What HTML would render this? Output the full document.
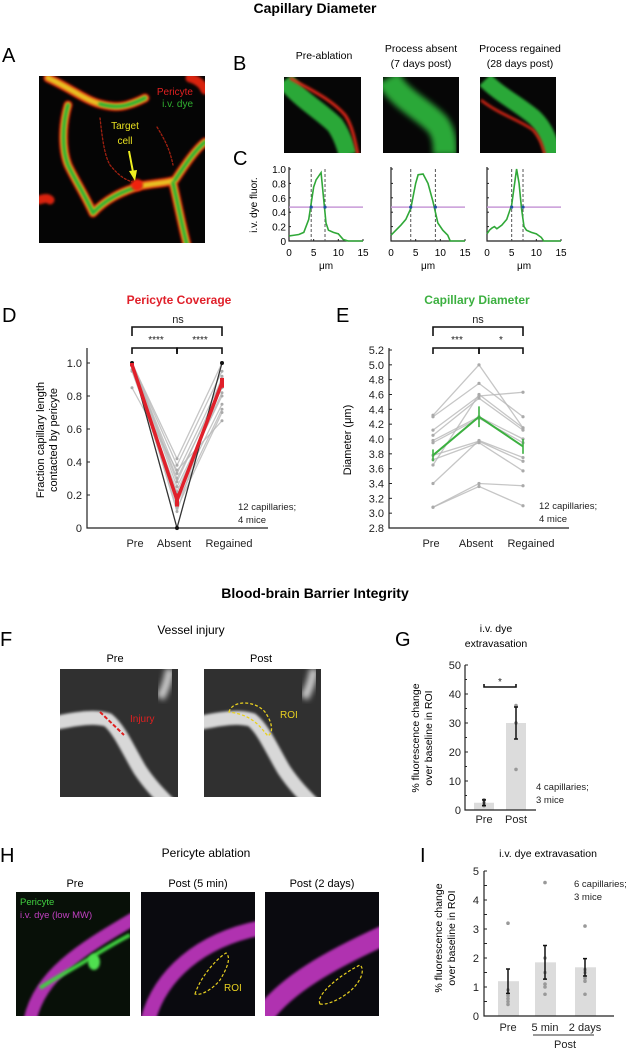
<!DOCTYPE html>
<html><head><meta charset="utf-8"><style>
body{margin:0;background:#fff}
svg text{font-family:"Liberation Sans",sans-serif}
</style></head><body>
<svg id="fig" width="630" height="1050" viewBox="0 0 630 1050" xmlns="http://www.w3.org/2000/svg">
<defs>
<filter id="bl" x="-20%" y="-20%" width="140%" height="140%"><feGaussianBlur stdDeviation="1.4"/></filter>
<filter id="bl2" x="-20%" y="-20%" width="140%" height="140%"><feGaussianBlur stdDeviation="3"/></filter>
<clipPath id="cA"><rect x="39" y="76" width="166" height="167"/></clipPath>
<clipPath id="cB1"><rect x="284" y="77" width="77" height="76"/></clipPath>
<clipPath id="cB2"><rect x="383" y="77" width="76" height="76"/></clipPath>
<clipPath id="cB3"><rect x="480" y="77" width="76" height="76"/></clipPath>
<clipPath id="cF1"><rect x="60" y="669" width="118" height="128"/></clipPath>
<clipPath id="cF2"><rect x="204" y="669" width="117" height="128"/></clipPath>
<clipPath id="cH1"><rect x="16" y="892" width="114" height="124"/></clipPath>
<clipPath id="cH2"><rect x="141" y="892" width="114" height="124"/></clipPath>
<clipPath id="cH3"><rect x="265" y="892" width="114" height="124"/></clipPath>
</defs>
<text x="315" y="13" font-size="14" font-weight="bold" text-anchor="middle">Capillary Diameter</text>
<text x="2" y="62" font-size="20">A</text>
<text x="233" y="70" font-size="20">B</text>
<text x="233" y="165" font-size="20">C</text>

<!-- Panel A image -->
<g clip-path="url(#cA)">
<rect x="39" y="76" width="166" height="167" fill="#050505"/>
<g fill="none" stroke-linecap="round">
<path id="va" d="M48 78 C70 88 85 100 100 104 C115 108 125 108 145 98 M68 105 C62 125 62 150 68 165 C75 180 85 195 93 213 M93 213 C105 200 120 192 140 186 C155 183 168 183 175 180 C185 165 195 150 205 142 M173 183 C178 205 182 225 187 245 M39 200 C45 198 48 198 50 200 M190 78 C198 80 203 85 205 90" stroke="#d82010" stroke-width="9" filter="url(#bl)"/>
<path d="M48 78 C70 88 85 100 100 104 C115 108 125 108 145 98 M68 105 C62 125 62 150 68 165 C75 180 85 195 93 213 M93 213 C105 200 120 192 140 186 C155 183 168 183 175 180 C185 165 195 150 205 142 M173 183 C178 205 182 225 187 245" stroke="#e8c020" stroke-width="5.5" filter="url(#bl)"/>
<path d="M68 105 C62 125 62 150 68 165 C75 180 85 195 93 213 M93 213 C105 200 120 192 140 186 M175 180 C185 165 195 150 205 142 M173 183 C178 205 182 225 187 245 M100 104 C115 108 125 108 145 98" stroke="#28b030" stroke-width="3.5" filter="url(#bl)"/>
<circle cx="137" cy="185" r="6" fill="#f02010" filter="url(#bl)"/>
<path d="M100 118 C102 135 104 155 110 165 C118 175 125 180 133 182 M157 127 C165 140 170 150 173 165" stroke="#a02010" stroke-width="1.3" stroke-dasharray="2 2"/>
</g>
<text x="193" y="95" font-size="10" fill="#e02020" text-anchor="end">Pericyte</text>
<text x="193" y="107" font-size="10" fill="#30b030" text-anchor="end">i.v. dye</text>
<text x="125" y="129" font-size="10" fill="#e8e020" text-anchor="middle">Target</text>
<text x="125" y="144" font-size="10" fill="#e8e020" text-anchor="middle">cell</text>
<path d="M129 151 L133 172" stroke="#f0f020" stroke-width="2"/>
<path d="M129 171 L135 181 L137 170 Z" fill="#f0f020"/>
</g>

<!-- Panel B labels and images -->
<text x="324" y="59" font-size="10.5" text-anchor="middle">Pre-ablation</text>
<text x="421" y="52" font-size="10.5" text-anchor="middle">Process absent</text>
<text x="421" y="67" font-size="10.5" text-anchor="middle">(7 days post)</text>
<text x="520" y="52" font-size="10.5" text-anchor="middle">Process regained</text>
<text x="520" y="67" font-size="10.5" text-anchor="middle">(28 days post)</text>
<g clip-path="url(#cB1)">
<rect x="284" y="77" width="77" height="76" fill="#060606"/>
<path d="M285 80 C300 100 320 110 335 125 C342 135 345 145 348 155" stroke="#2aa838" stroke-width="18" fill="none" filter="url(#bl)"/>
<path d="M290 78 C310 90 330 98 345 115 C352 125 355 140 358 155" stroke="#e02818" stroke-width="3" fill="none" filter="url(#bl)"/>
</g>
<g clip-path="url(#cB2)">
<rect x="383" y="77" width="76" height="76" fill="#060606"/>
<path d="M388 78 C400 100 425 110 438 125 C445 135 445 145 445 155" stroke="#2aa838" stroke-width="24" fill="none" filter="url(#bl2)"/>
</g>
<g clip-path="url(#cB3)">
<rect x="480" y="77" width="76" height="76" fill="#060606"/>
<path d="M485 80 C500 95 520 105 535 118 C545 128 550 140 553 155" stroke="#2aa838" stroke-width="16" fill="none" filter="url(#bl)"/>
<path d="M481 100 C500 115 520 120 533 130 C540 138 542 145 545 155" stroke="#e02818" stroke-width="2.5" fill="none" filter="url(#bl)"/>
</g>
<g id="panelC"></g>

<!-- Panel D/E -->
<text x="2" y="322" font-size="20">D</text>
<text x="336" y="322" font-size="20">E</text>
<text x="179" y="304" font-size="12" font-weight="bold" fill="#e0202a" text-anchor="middle">Pericyte Coverage</text>
<text x="477" y="304" font-size="12" font-weight="bold" fill="#3cb040" text-anchor="middle">Capillary Diameter</text>
<g id="panelD"></g>
<g id="panelE"></g>

<text x="315" y="598" font-size="14" font-weight="bold" text-anchor="middle">Blood-brain Barrier Integrity</text>

<!-- Panel F -->
<text x="0" y="646" font-size="20">F</text>
<text x="191" y="634" font-size="12" text-anchor="middle">Vessel injury</text>
<text x="115" y="662" font-size="11" text-anchor="middle">Pre</text>
<text x="261" y="662" font-size="11" text-anchor="middle">Post</text>
<g clip-path="url(#cF1)">
<rect x="60" y="669" width="118" height="128" fill="#303030"/>
<path d="M55 723 C80 718 95 716 108 720 C120 730 128 750 140 770 C150 785 160 795 170 805" stroke="#d8d8d8" stroke-width="14" fill="none" filter="url(#bl)"/>
<path d="M170 669 C168 680 165 690 160 698" stroke="#c8c8c8" stroke-width="9" fill="none" filter="url(#bl2)"/>
<path d="M100 712 L124 735" stroke="#e02020" stroke-width="2" stroke-dasharray="4 2"/>
<text x="130" y="722" font-size="10" fill="#e02020">Injury</text>
</g>
<g clip-path="url(#cF2)">
<rect x="204" y="669" width="117" height="128" fill="#303030"/>
<path d="M199 723 C224 718 239 716 252 720 C264 730 272 750 284 770 C294 785 304 795 314 805" stroke="#d8d8d8" stroke-width="14" fill="none" filter="url(#bl)"/>
<path d="M314 669 C312 680 309 690 304 698" stroke="#c8c8c8" stroke-width="9" fill="none" filter="url(#bl2)"/>
<path d="M229 712 C232 700 255 700 265 712 C272 722 274 732 268 736 C262 730 255 715 229 712 Z" fill="none" stroke="#e8d020" stroke-width="1.3" stroke-dasharray="3 2"/>
<text x="280" y="718" font-size="10" fill="#e8d020">ROI</text>
</g>

<!-- Panel G -->
<text x="395" y="646" font-size="20">G</text>
<text x="496" y="632" font-size="10.5" text-anchor="middle">i.v. dye</text>
<text x="496" y="647" font-size="10.5" text-anchor="middle">extravasation</text>
<g id="panelG"></g>

<!-- Panel H -->
<text x="0" y="862" font-size="20">H</text>
<text x="206" y="857" font-size="12" text-anchor="middle">Pericyte ablation</text>
<text x="75" y="887" font-size="11" text-anchor="middle">Pre</text>
<text x="198" y="887" font-size="11" text-anchor="middle">Post (5 min)</text>
<text x="322" y="887" font-size="11" text-anchor="middle">Post (2 days)</text>
<g clip-path="url(#cH1)">
<rect x="16" y="892" width="114" height="124" fill="#081008"/>
<path d="M30 1020 C40 975 80 950 135 918" stroke="#b030b0" stroke-width="13" fill="none" filter="url(#bl)"/>
<path d="M40 988 C60 975 80 965 95 955 C108 947 120 940 130 935" stroke="#40d040" stroke-width="4" fill="none" filter="url(#bl)"/>
<ellipse cx="94" cy="962" rx="6" ry="8" fill="#50e050" filter="url(#bl)"/>
<text x="20" y="905" font-size="9.5" fill="#40d040">Pericyte</text>
<text x="20" y="918" font-size="9.5" fill="#c040c0">i.v. dye (low MW)</text>
</g>
<g clip-path="url(#cH2)">
<rect x="141" y="892" width="114" height="124" fill="#0a0a0f"/>
<path d="M148 1020 C160 975 200 940 260 928" stroke="#b030b0" stroke-width="15" fill="none" filter="url(#bl)"/>
<path d="M195 994 C200 978 215 960 226 953 C232 958 226 970 220 980 C212 990 200 996 195 994 Z" fill="none" stroke="#e8d020" stroke-width="1.2" stroke-dasharray="3 2"/>
<text x="224" y="991" font-size="10" fill="#e8d020">ROI</text>
</g>
<g clip-path="url(#cH3)">
<rect x="265" y="892" width="114" height="124" fill="#0a0a0f"/>
<path d="M262 1018 C285 985 330 960 385 935" stroke="#b030b0" stroke-width="20" fill="none" filter="url(#bl)"/>
<path d="M320 1004 C315 995 340 975 360 965 C366 970 360 985 345 995 C335 1002 325 1005 320 1004 Z" fill="none" stroke="#e8d020" stroke-width="1.2" stroke-dasharray="3 2"/>
</g>

<!-- Panel I -->
<text x="420" y="862" font-size="20">I</text>
<text x="548" y="857" font-size="10.5" text-anchor="middle">i.v. dye extravasation</text>
<g id="panelI"></g>
</svg>
<script>
// ---- Panel C data ----
const cXTicks = [0, 5, 10, 15];
const cYTicks = [0, 0.2, 0.4, 0.6, 0.8, 1.0];
const cX1 = [0, 1, 2, 3, 4, 5, 5.5, 6.5, 7, 7.5, 8, 9, 10, 11, 12, 15];
const cY1 = [0.07, 0.08, 0.09, 0.12, 0.3, 0.75, 0.85, 0.95, 0.6, 0.25, 0.15, 0.12, 0.1, 0.02, 0, 0];
const cX2 = [0, 1, 2, 3, 4, 5, 5.5, 6.5, 7.5, 8.5, 9.5, 10.5, 11.5, 12, 15];
const cY2 = [0.08, 0.15, 0.22, 0.3, 0.45, 0.8, 0.92, 0.93, 0.8, 0.55, 0.25, 0.15, 0.08, 0, 0];
const cX3 = [0, 0.5, 1, 1.5, 2, 3, 4, 5, 5.5, 6, 6.5, 7, 7.5, 8, 9, 10, 11, 11.5, 15];
const cY3 = [0.1, 0.15, 0.18, 0.2, 0.17, 0.22, 0.3, 0.5, 0.75, 1.0, 0.8, 0.45, 0.2, 0.15, 0.12, 0.1, 0.05, 0, 0];
const cHalf = [0.47, 0.47, 0.47];
const cDash = [[4.5, 7.3], [4, 9], [5, 7.3]];

// ---- Panel D data ----
const dCats = ["Pre", "Absent", "Regained"];
const dYTicks = [0, 0.2, 0.4, 0.6, 0.8, 1.0];
const dYTickLabels = ["0", "0.2", "0.4", "0.6", "0.8", "1.0"];
const dPre = [1, 1, 1, 1, 1, 0.95, 1, 0.98, 0.85, 1, 1, 0.96];
const dAbsent = [0.42, 0.38, 0.33, 0.3, 0.25, 0.2, 0.15, 0.12, 0.35, 0.28, 0.1, 0.22];
const dRegained = [1, 0.95, 0.9, 0.85, 0.8, 0.75, 0.72, 0.7, 0.65, 0.88, 0.92, 0.82];
const dMean = [0.99, 0.17, 0.88];
const dSem = [0.01, 0.04, 0.03];
const dBlack = [1, 0, 1];

// ---- Panel E data ----
const eYTicks = [2.8, 3.0, 3.2, 3.4, 3.6, 3.8, 4.0, 4.2, 4.4, 4.6, 4.8, 5.0, 5.2];
const ePre = [4.32, 4.3, 4.12, 4.05, 3.98, 3.95, 3.78, 3.72, 3.65, 3.4, 3.08, 3.08];
const eAbsent = [5.0, 4.75, 4.58, 4.55, 4.3, 4.28, 3.97, 3.95, 4.6, 3.98, 3.4, 3.36];
const eRegained = [4.15, 4.3, 4.63, 4.12, 4.0, 3.95, 3.7, 3.57, 4.15, 3.75, 3.37, 3.1];
const eMean = [3.78, 4.3, 3.9];
const eSem = [0.08, 0.14, 0.1];

// ---- Panel G data ----
const gCats = ["Pre", "Post"];
const gMean = [2.5, 30];
const gSem = [1, 5.5];
const gPts = [[1.5, 2.5, 3.5, 2], [14, 30, 36, 30]];
const gYTicks = [0, 10, 20, 30, 40, 50];

// ---- Panel I data ----
const iCats = ["Pre", "5 min", "2 days"];
const iMean = [1.2, 1.85, 1.68];
const iSem = [0.42, 0.58, 0.3];
const iPts = [[3.2, 0.9, 0.7, 0.5, 0.4, 0.6], [4.6, 2.0, 1.5, 1.0, 1.1, 0.75], [3.1, 1.3, 1.2, 0.75, 1.6, 1.5]];
const iYTicks = [0, 1, 2, 3, 4, 5];

const NS = "http://www.w3.org/2000/svg";
function el(parent, tag, attrs, txt) {
  const e = document.createElementNS(NS, tag);
  for (const k in attrs) e.setAttribute(k, attrs[k]);
  if (txt !== undefined) e.textContent = txt;
  parent.appendChild(e);
  return e;
}

// Panel C
(function () {
  const g = document.getElementById("panelC");
  const plots = [[289, 363, cX1, cY1], [391, 465, cX2, cY2], [487, 561, cX3, cY3]];
  const y0 = 241, y1 = 169;
  plots.forEach((p, i) => {
    const [xa, xb, xs, ys] = p;
    const sx = v => xa + v / 15 * (xb - xa);
    const sy = v => y0 - v * (y0 - y1);
    const ax = el(g, "path", { d: `M${xa} ${y1 - 2} L${xa} ${y0} L${xb} ${y0}`, stroke: "#222", fill: "none", "stroke-width": 1.2 });
    
    
    cXTicks.forEach(t => {
      el(g, "line", { x1: sx(t), x2: sx(t), y1: y0, y2: y0 - 2, stroke: "#222" });
      const tl = el(g, "text", { x: sx(t), y: y0 + 15, "font-size": 10, "text-anchor": "middle" }, t);
      
      
    });
    cYTicks.forEach(t => {
      el(g, "line", { x1: xa, x2: xa + 2, y1: sy(t), y2: sy(t), stroke: "#222" });
      if (i === 0) {
        const tl = el(g, "text", { x: xa - 3, y: sy(t) + 4, "font-size": 10, "text-anchor": "end" }, t === 0 ? "0" : t.toFixed(1));
        
        
      }
    });
    const xl = el(g, "text", { x: (xa + xb) / 2, y: y0 + 28, "font-size": 10, "text-anchor": "middle" }, "μm");
    
    
    const hl = el(g, "line", { x1: xa, x2: xb, y1: sy(cHalf[i]), y2: sy(cHalf[i]), stroke: "#c89ad8", "stroke-width": 1.5 });
    
    
    cDash[i].forEach(d => {
      const dl = el(g, "line", { x1: sx(d), x2: sx(d), y1: y1, y2: y0, stroke: "#555", "stroke-dasharray": "3 2" });
      
      
    });
    const pl = el(g, "polyline", { points: xs.map((x, j) => sx(x) + "," + sy(ys[j])).join(" "), fill: "none", stroke: "#30a838", "stroke-width": 1.6 });
    
    
    cDash[i].forEach(d => {
      const c = el(g, "circle", { cx: sx(d), cy: sy(cHalf[i]), r: 1.6, fill: "#2050a0" });
      
      
    });
  });
  const yl = el(g, "text", { transform: "translate(257,205) rotate(-90)", "font-size": 10, "text-anchor": "middle" }, "i.v. dye fluor.");
  
  
})();

function bracket(g, xa, xb, y, h) {
  const b = el(g, "path", { d: `M${xa} ${y + h} L${xa} ${y} L${xb} ${y} L${xb} ${y + h}`, fill: "none", stroke: "#111", "stroke-width": 1.6 });
  
  
}
function label(g, x, y, t, name, size, anchor, color) {
  const e = el(g, "text", { x: x, y: y, "font-size": size || 10, "text-anchor": anchor || "middle", fill: color || "#222" }, t);
  
  
  return e;
}

// Panel D
(function () {
  const g = document.getElementById("panelD");
  const xs = [132, 177, 222];
  const sy = v => 528 - v * 165;
  const ax = el(g, "path", { d: "M87 348 L87 528 L268 528", fill: "none", stroke: "#222", "stroke-width": 1.2 });
  
  
  dYTicks.forEach((t, i) => {
    el(g, "line", { x1: 87, x2: 90, y1: sy(t), y2: sy(t), stroke: "#222" });
    label(g, 82, sy(t) + 4, dYTickLabels[i], "d-y-tick-label", 11, "end");
  });
  dCats.forEach((c, i) => label(g, [135, 174, 229][i], 547, c, "d-x-tick-label", 11));
  dPre.forEach((v, i) => {
    const l = el(g, "polyline", { points: [dPre[i], dAbsent[i], dRegained[i]].map((u, j) => xs[j] + "," + sy(u)).join(" "), fill: "none", stroke: "#b8b8b8", "stroke-width": 1.3, "stroke-opacity": 0.8 });
    
    
    [dPre[i], dAbsent[i], dRegained[i]].forEach((u, j) => el(g, "circle", { cx: xs[j], cy: sy(u), r: 1.5, fill: "#aaa" }));
  });
  const bl = el(g, "polyline", { points: dBlack.map((u, j) => xs[j] + "," + sy(u)).join(" "), fill: "none", stroke: "#333", "stroke-width": 1.3 });
  
  
  dBlack.forEach((u, j) => el(g, "circle", { cx: xs[j], cy: sy(u), r: 2, fill: "#111" }));
  const ml = el(g, "polyline", { points: dMean.map((u, j) => xs[j] + "," + sy(u)).join(" "), fill: "none", stroke: "#e0202a", "stroke-width": 3.5 });
  
  
  dMean.forEach((u, j) => {
    const e = el(g, "line", { x1: xs[j], x2: xs[j], y1: sy(u - dSem[j]), y2: sy(u + dSem[j]), stroke: "#e0202a", "stroke-width": 4 });
    
    
  });
  bracket(g, 132, 222, 327, 9);
  label(g, 178, 323, "ns", "d-sig-ns", 11);
  bracket(g, 132, 177, 348, 6);
  bracket(g, 177, 222, 348, 6);
  el(g, "line", { x1: 177, x2: 177, y1: 348, y2: 352, stroke: "#111", "stroke-width": 1.6 });
  label(g, 156, 343, "****", "d-sig-stars", 10);
  label(g, 200, 343, "****", "d-sig-stars", 10);
  const yl = el(g, "text", { transform: "translate(44,440) rotate(-90)", "font-size": 11, "text-anchor": "middle" }, "Fraction capillary length");
  
  
  const yl2 = el(g, "text", { transform: "translate(57,440) rotate(-90)", "font-size": 11, "text-anchor": "middle" }, "contacted by pericyte");
  
  
  label(g, 238, 510, "12 capillaries;", "d-n-note", 9.5, "start");
  label(g, 238, 523, "4 mice", "d-n-note-2", 9.5, "start");
})();

// Panel E
(function () {
  const g = document.getElementById("panelE");
  const xs = [433, 479, 523];
  const sy = v => 528 - (v - 2.8) / 2.4 * 178;
  const ax = el(g, "path", { d: "M389 348 L389 528 L569 528", fill: "none", stroke: "#222", "stroke-width": 1.2 });
  
  
  eYTicks.forEach(t => {
    el(g, "line", { x1: 389, x2: 392, y1: sy(t), y2: sy(t), stroke: "#222" });
    label(g, 384, sy(t) + 4, t.toFixed(1), "e-y-tick-label", 11, "end");
  });
  dCats.forEach((c, i) => label(g, [431, 476, 531][i], 547, c, "e-x-tick-label", 11));
  ePre.forEach((v, i) => {
    const vals = [ePre[i], eAbsent[i], eRegained[i]];
    const l = el(g, "polyline", { points: vals.map((u, j) => xs[j] + "," + sy(u)).join(" "), fill: "none", stroke: "#b8b8b8", "stroke-width": 1.3, "stroke-opacity": 0.8 });
    
    
    vals.forEach((u, j) => el(g, "circle", { cx: xs[j], cy: sy(u), r: 1.6, fill: "#aaa" }));
  });
  const ml = el(g, "polyline", { points: eMean.map((u, j) => xs[j] + "," + sy(u)).join(" "), fill: "none", stroke: "#3cb040", "stroke-width": 2 });
  
  
  eMean.forEach((u, j) => {
    const e = el(g, "line", { x1: xs[j], x2: xs[j], y1: sy(u - eSem[j]), y2: sy(u + eSem[j]), stroke: "#3cb040", "stroke-width": 1.6 });
    
    
  });
  bracket(g, 433, 523, 327, 9);
  label(g, 478, 323, "ns", "e-sig-ns", 11);
  bracket(g, 433, 479, 348, 6);
  bracket(g, 479, 523, 348, 6);
  label(g, 457, 343, "***", "e-sig-stars", 10);
  label(g, 501, 343, "*", "e-sig-stars", 10);
  const yl = el(g, "text", { transform: "translate(351,440) rotate(-90)", "font-size": 11, "text-anchor": "middle" }, "Diameter (μm)");
  
  
  label(g, 539, 509, "12 capillaries;", "e-n-note", 9.5, "start");
  label(g, 539, 522, "4 mice", "e-n-note-2", 9.5, "start");
})();

// Panel G
(function () {
  const g = document.getElementById("panelG");
  const xs = [484, 516];
  const sy = v => 810 - v * 2.9;
  gMean.forEach((v, i) => {
    const b = el(g, "rect", { x: xs[i] - 10, y: sy(v), width: 20, height: 810 - sy(v), fill: "#dcdcdc" });
    
    
    gPts[i].forEach(p => el(g, "circle", { cx: xs[i], cy: sy(p), r: 1.8, fill: "#999" }));
    const e = el(g, "path", { d: `M${xs[i]} ${sy(v - gSem[i])} L${xs[i]} ${sy(v + gSem[i])} M${xs[i] - 2} ${sy(v - gSem[i])} L${xs[i] + 2} ${sy(v - gSem[i])} M${xs[i] - 2} ${sy(v + gSem[i])} L${xs[i] + 2} ${sy(v + gSem[i])}`, stroke: "#111", "stroke-width": 1.5, fill: "none" });
    
    
    label(g, xs[i], 823, gCats[i], "g-x-tick-label", 11);
  });
  const ax = el(g, "path", { d: "M465 665 L465 810 L536 810", fill: "none", stroke: "#222", "stroke-width": 1.2 });
  
  
  for (let t = 0; t <= 50; t += 5) el(g, "line", { x1: 465, x2: t % 10 ? 467 : 468, y1: sy(t), y2: sy(t), stroke: "#222" });
  gYTicks.forEach(t => label(g, 461, sy(t) + 4, t, "g-y-tick-label", 11, "end"));
  bracket(g, 484, 516, 687, -3);
  label(g, 500, 685, "*", "g-sig-star", 10);
  const y1 = el(g, "text", { transform: "translate(419,738) rotate(-90)", "font-size": 10.5, "text-anchor": "middle" }, "% fluorescence change");
  
  
  const y2 = el(g, "text", { transform: "translate(432,738) rotate(-90)", "font-size": 10.5, "text-anchor": "middle" }, "over baseline in ROI");
  
  
  label(g, 536, 790, "4 capillaries;", "g-n-note", 9.5, "start");
  label(g, 536, 803, "3 mice", "g-n-note-2", 9.5, "start");
})();

// Panel I
(function () {
  const g = document.getElementById("panelI");
  const xs = [508, 545, 585];
  const sy = v => 1016 - v * 29;
  iMean.forEach((v, i) => {
    const b = el(g, "rect", { x: xs[i] - 10, y: sy(v), width: 21, height: 1016 - sy(v), fill: "#dcdcdc" });
    
    
    iPts[i].forEach(p => el(g, "circle", { cx: xs[i], cy: sy(p), r: 1.8, fill: "#999" }));
    const e = el(g, "path", { d: `M${xs[i]} ${sy(v - iSem[i])} L${xs[i]} ${sy(v + iSem[i])} M${xs[i] - 2} ${sy(v - iSem[i])} L${xs[i] + 2} ${sy(v - iSem[i])} M${xs[i] - 2} ${sy(v + iSem[i])} L${xs[i] + 2} ${sy(v + iSem[i])}`, stroke: "#111", "stroke-width": 1.5, fill: "none" });
    
    
    label(g, xs[i], 1031, iCats[i], "i-x-tick-label", 11);
  });
  const ax = el(g, "path", { d: "M484 871 L484 1016 L614 1016", fill: "none", stroke: "#222", "stroke-width": 1.2 });
  
  
  for (let t = 0; t <= 5; t += 0.5) el(g, "line", { x1: 484, x2: 487, y1: sy(t), y2: sy(t), stroke: "#222" });
  iYTicks.forEach(t => label(g, 479, sy(t) + 4, t, "i-y-tick-label", 11, "end"));
  const pl = el(g, "line", { x1: 533, x2: 594, y1: 1035, y2: 1035, stroke: "#333", "stroke-width": 1 });
  
  
  label(g, 565, 1048, "Post", "i-post-group-label", 11);
  const y1 = el(g, "text", { transform: "translate(442,938) rotate(-90)", "font-size": 10.5, "text-anchor": "middle" }, "% fluorescence change");
  
  
  const y2 = el(g, "text", { transform: "translate(455,938) rotate(-90)", "font-size": 10.5, "text-anchor": "middle" }, "over baseline in ROI");
  
  
  label(g, 574, 887, "6 capillaries;", "i-n-note", 9.5, "start");
  label(g, 574, 900, "3 mice", "i-n-note-2", 9.5, "start");
})();
</script>
</body></html>
